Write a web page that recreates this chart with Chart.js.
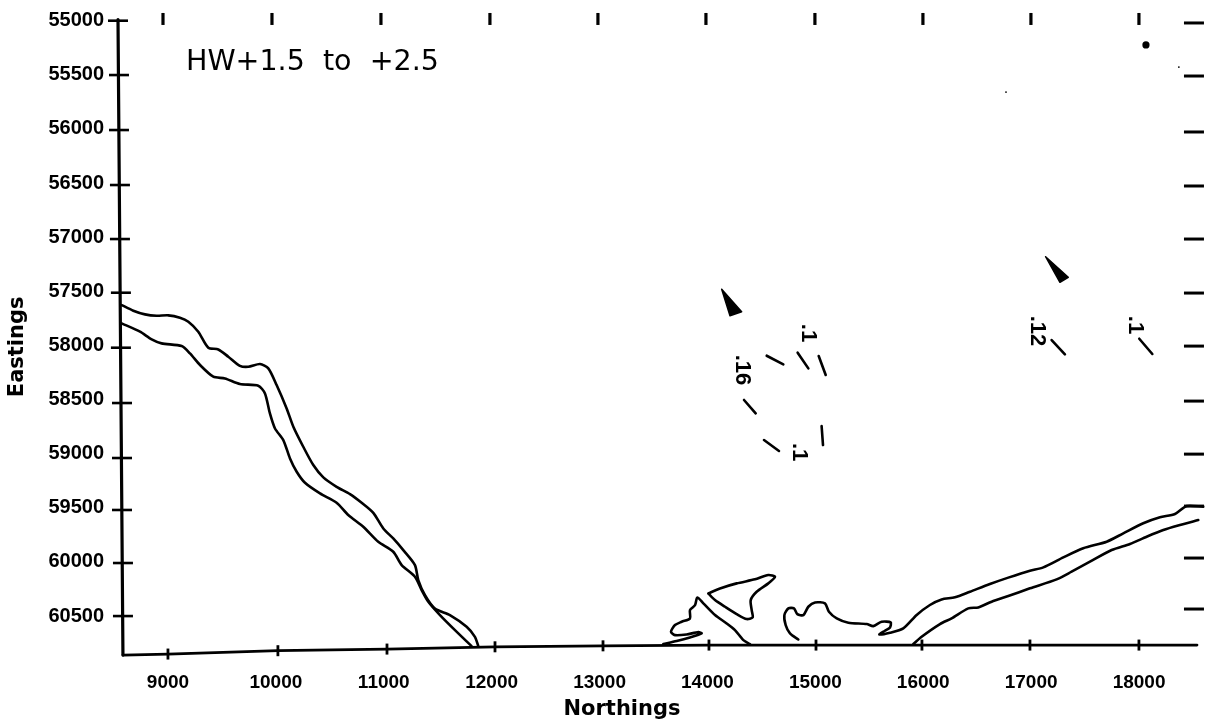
<!DOCTYPE html>
<html><head><meta charset="utf-8">
<style>html,body{margin:0;padding:0;background:#fff}canvas{display:block}</style>
<script src="https://cdn.jsdelivr.net/npm/chart.js@4"></script>
</head><body><canvas id="c" width="1211" height="724"></canvas>
<script>
const chartTitle = "HW+1.5  to  +2.5";
const xTitle = "Northings", yTitle = "Eastings";
const xTickValues = [9000,10000,11000,12000,13000,14000,15000,16000,17000,18000];
const yTickValues = [55000,55500,56000,56500,57000,57500,58000,58500,59000,59500,60000,60500];

// west shore, two lines
const westUpperX = [8571,8679,8787,8895,9003,9111,9189,9281,9374,9467,9559,9667,9745,9853,9930,10007,10100,10162,10254,10347,10440,10563,10687,10795,10903,10996,11088,11181,11289,11320,11382,11474,11613,11768,11845,11876];
const westUpperY = [57627,57679,57713,57726,57722,57744,57781,57873,58021,58037,58104,58188,58197,58172,58212,58366,58582,58751,58936,59105,59219,59306,59373,59453,59546,59691,59783,59891,60029,60168,60307,60430,60491,60599,60692,60778];
const westLowerX = [8571,8741,8849,8941,9127,9204,9297,9420,9528,9667,9837,9899,9945,9992,10069,10131,10193,10270,10409,10563,10671,10810,10949,11088,11166,11289,11351,11413,11521,11660,11814];
const westLowerY = [57796,57873,57944,57981,58006,58074,58181,58289,58305,58357,58372,58443,58628,58767,58874,59044,59167,59269,59367,59453,59567,59675,59814,59906,60029,60137,60260,60368,60491,60630,60778];
// banks in the middle
const spitX = [13591,13715,13838,13946,13916,13807,13699,13662,13699,13761,13838,13838,13885,13906,13962,14070,14178,14255,14333,14394];
const spitY = [60759,60731,60697,60660,60648,60670,60676,60645,60583,60553,60522,60445,60399,60328,60383,60491,60568,60630,60722,60759];
const islandX = [14008,14116,14271,14441,14564,14626,14564,14456,14401,14410,14419,14363,14271,14163,14070,14008];
const islandY = [60291,60245,60198,60161,60121,60137,60198,60275,60352,60445,60513,60528,60482,60414,60352,60291];
// east shore, upper line begins with the bay
const eastUpperX = [14842,14765,14725,14713,14750,14802,14833,14889,14935,14997,15089,15126,15198,15306,15476,15537,15614,15698,15692,15645,15593,15692,15815,15939,16062,16170,16294,16433,16618,16788,16989,17113,17298,17483,17700,17854,18039,18194,18333,18441,18595];
const eastUpperY = [60716,60660,60583,60491,60429,60429,60482,60491,60414,60374,60383,60460,60522,60562,60574,60593,60553,60559,60605,60636,60670,60654,60614,60490,60398,60346,60327,60275,60204,60145,60081,60050,59958,59874,59813,59736,59643,59588,59557,59483,59489];
const eastLowerX = [15908,15985,16155,16263,16418,16510,16634,16788,16989,17236,17375,17545,17746,17916,18070,18225,18379,18549];
const eastLowerY = [60758,60691,60574,60521,60429,60420,60367,60315,60244,60161,60090,59998,59890,59834,59767,59705,59659,59613];
// axis traces as scanned (the sheet sits slightly askew)
const baselineX = [8583,9000,10019,11030,12031,13032,14014,15006,15988,16989,17999,18537];
const baselineY = [60860,60851,60820,60805,60784,60775,60768,60768,60768,60768,60768,60768];
const leftAxisX = [8537,8583];
const leftAxisY = [54990,60860];
const bottomTickX = [9000,10019,11030,12031,13032,14014,15006,15988,16989,17999];
const bottomTickY = [60851,60820,60805,60784,60775,60768,60768,60768,60768,60768];
const topTickX = [8954,9964,10974,11984,12985,13986,14996,15997,16998,17999];
const topTickY = [54984,54984,54984,54984,54984,54984,54984,54984,54984,54984];
const leftTickX = [8537,8546,8546,8555,8555,8564,8564,8574,8574,8574,8583,8583];
const leftTickY = [55000,55502,56010,56518,57017,57513,58021,58532,59040,59520,60010,60500];
const rightTickX = [18509,18509,18509,18509,18509,18509,18509,18509,18509,18509,18509,18509];
const rightTickY = [55021,55511,56028,56527,57017,57516,58006,58514,59004,59484,59964,60435];
// contour fragments
const wedge1X = [14132,14209,14317,14132], wedge1Y = [57482,57725,57688,57482];
const wedge2X = [17134,17267,17344,17134], wedge2Y = [57180,57417,57371,57180];
const dashes = [
  [[14549,14703],[58095,58175]],
  [[14836,14935],[58067,58212]],
  [[15031,15096],[58098,58273]],
  [[14339,14447],[58504,58627]],
  [[14524,14663],[58874,58975]],
  [[15058,15071],[58744,58920]],
  [[17190,17313],[57950,58082]],
  [[18002,18123],[57938,58079]]
];
const contourText = [".1",".16",".1",".12",".1"];
const contourTextX = [14932,14320,14848,17054,17962];
const contourTextY = [57885,58227,58985,57867,57811];
const blobX = [18064], blobY = [55224];
const speckX = [16767,18369], speckY = [55659,55428];

const pts = (xs,ys)=>xs.map((x,i)=>({x,y:ys[i]}));
const line = (xs,ys,w=2.6,extra={})=>Object.assign({data:pts(xs,ys),showLine:true,borderColor:'#000',backgroundColor:'#000',borderWidth:w,pointRadius:0,tension:0.25,clip:false,parsing:false,normalized:false,borderCapStyle:'round',borderJoinStyle:'round'},extra);
const marks = (xs,ys,r,rot,w=3)=>({data:pts(xs,ys),showLine:false,pointStyle:'line',pointRadius:r,pointRotation:rot,pointBorderColor:'#000',pointBackgroundColor:'#000',pointBorderWidth:w,clip:false});
const dots = (xs,ys,r)=>({data:pts(xs,ys),showLine:false,pointStyle:'circle',pointRadius:r,pointBorderWidth:0,pointBackgroundColor:'#000',clip:false});

const datasets = [
  line(leftAxisX,leftAxisY,3.2,{tension:0}),
  line(baselineX,baselineY,2.8,{tension:0}),
  marks(leftTickX,leftTickY,10,0,2.6),
  marks(rightTickX,rightTickY,10,0,3),
  marks(topTickX,topTickY,6,90,3.2),
  marks(bottomTickX,bottomTickY,5.5,90,2.8),
  line(westUpperX,westUpperY),
  line(westLowerX,westLowerY),
  line(spitX,spitY),
  line(islandX,islandY),
  line(eastUpperX,eastUpperY),
  line(eastLowerX,eastLowerY),
  line(wedge1X,wedge1Y,1.5,{tension:0,fill:'shape'}),
  line(wedge2X,wedge2Y,1.5,{tension:0,fill:'shape'}),
  ...dashes.map(d=>line(d[0],d[1],2.6,{tension:0})),
  dots(blobX,blobY,3.6),
  dots(speckX,speckY,0.9)
];

const textPlugin = {
  id:'chartText',
  afterLayout(chart){
    // centre the x axis title on where the reference has it
    const {x} = chart.scales;
    x.left -= 39; x.right -= 39;
  },
  afterDraw(chart){
    const {ctx,scales:{x,y}} = chart;
    ctx.save();
    ctx.fillStyle = '#000';
    ctx.font = '28.5px "DejaVu Sans"';
    ctx.textAlign = 'left'; ctx.textBaseline = 'middle';
    ctx.fillText(chartTitle, x.getPixelForValue(9167), y.getPixelForValue(55385));
    ctx.font = 'bold 22px "Liberation Sans"';
    ctx.textAlign = 'center';
    contourText.forEach((t,i)=>{
      ctx.save();
      ctx.translate(x.getPixelForValue(contourTextX[i]), y.getPixelForValue(contourTextY[i]));
      ctx.rotate(Math.PI/2);
      ctx.fillText(t,0,0);
      ctx.restore();
    });
    ctx.restore();
  }
};

new Chart(document.getElementById('c'),{
  type:'scatter',
  data:{datasets},
  plugins:[textPlugin],
  options:{
    responsive:false,animation:false,
    layout:{autoPadding:false,padding:{top:20.7,right:7,left:0,bottom:0}},
    plugins:{legend:{display:false},tooltip:{enabled:false},title:{display:false}},
    scales:{
      x:{type:'linear',position:'bottom',min:8537,max:18602,
        afterBuildTicks(s){s.ticks=xTickValues.map(value=>({value}));},
        afterFit(s){s.height=51;s.paddingLeft=0;s.paddingRight=0;},
        grid:{display:false,drawTicks:false},border:{display:false},
        ticks:{padding:-2,maxRotation:0,autoSkip:false,color:'#000',font:{family:'"Liberation Sans"',weight:'bold',size:19},callback:v=>String(v)},
        title:{display:true,text:xTitle,color:'#000',font:{family:'"DejaVu Sans"',weight:'bold',size:21},padding:{top:0,bottom:2}}
      },
      y:{type:'linear',position:'left',reverse:true,min:55000,max:61026,
        afterBuildTicks(s){s.ticks=yTickValues.map(value=>({value}));},
        afterFit(s){s.width=118;s.paddingTop=0;s.paddingBottom=0;},
        grid:{display:false,drawTicks:false},border:{display:false},
        ticks:{padding:14,autoSkip:false,color:'#000',font:{family:'"Liberation Sans"',weight:'bold',size:20},callback:v=>String(v)},
        title:{display:true,text:yTitle,color:'#000',font:{family:'"DejaVu Sans"',weight:'bold',size:21},padding:{top:5,bottom:0}}
      }
    }
  }
});
</script></body></html>
